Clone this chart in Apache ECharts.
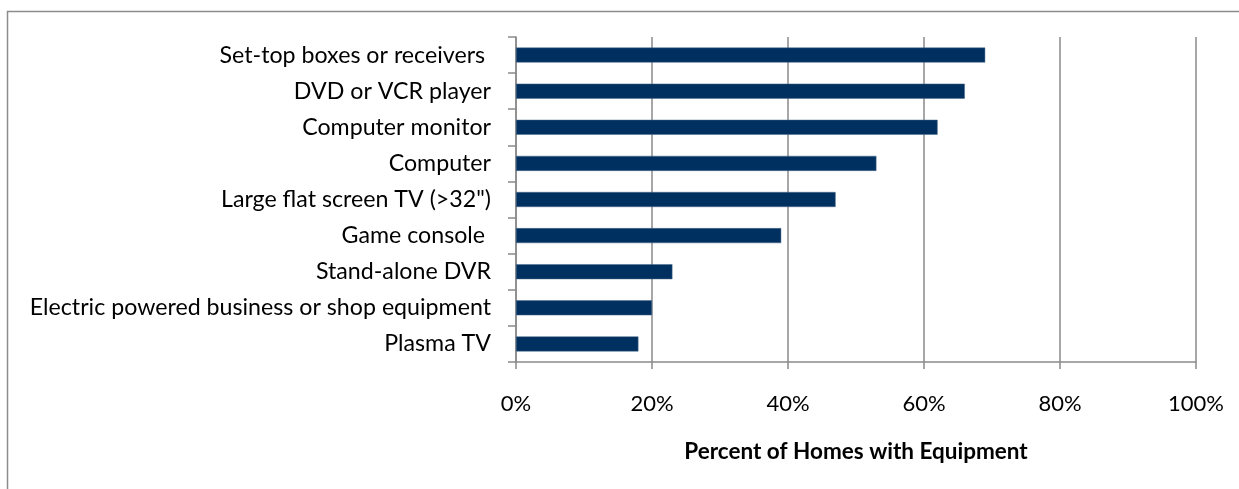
<!DOCTYPE html>
<html>
<head>
<meta charset="utf-8">
<script src="https://cdn.jsdelivr.net/npm/echarts@6/dist/echarts.min.js"></script>
<style>
  html, body { margin: 0; padding: 0; background: #fff; }
  #chart { width: 1239px; height: 489px; }
</style>
</head>
<body>
<div id="chart"></div>
<script>
// Equipment types, listed top to bottom
const categories = [
  'Set-top boxes or receivers ',
  'DVD or VCR player',
  'Computer monitor',
  'Computer',
  'Large flat screen TV (>32")',
  'Game console ',
  'Stand-alone DVR',
  'Electric powered business or shop equipment',
  'Plasma TV'
];
// Share of homes owning each item (%)
const shares = [69, 66, 62, 53, 47, 39, 23, 20, 18];
const xTicks = [0, 20, 40, 60, 80, 100];
const axisTitle = 'Percent of Homes with Equipment';

const fontFamily = 'Lato, "Open Sans", sans-serif';
const gridGray = '#8a8a8a';

const chart = echarts.init(document.getElementById('chart'), null, { renderer: 'canvas' });
chart.setOption({
  backgroundColor: '#ffffff',
  animation: false,
  graphic: [{
    type: 'rect',
    shape: { x: 7.5, y: 11.5, width: 1400, height: 700 },
    style: { fill: 'none', stroke: '#8c8c8c', lineWidth: 1.5 },
    silent: true
  }],
  grid: { left: 516, right: 43, top: 37, bottom: 127, containLabel: false },
  xAxis: {
    type: 'value',
    min: xTicks[0],
    max: xTicks[xTicks.length - 1],
    interval: 20,
    axisLine: { show: true, lineStyle: { color: gridGray, width: 1.5 } },
    axisTick: { show: true, length: 7, lineStyle: { color: gridGray, width: 1.5 } },
    splitLine: { show: true, lineStyle: { color: gridGray, width: 1.5 } },
    axisLabel: {
      formatter: v => v + '%',
      color: '#000',
      fontFamily: fontFamily,
      fontSize: 22,
      margin: 31
    },
    name: axisTitle,
    nameLocation: 'middle',
    nameGap: 78,
    nameTextStyle: { color: '#000', fontFamily: fontFamily, fontSize: 22.5, fontWeight: 'bold' }
  },
  yAxis: {
    type: 'category',
    data: categories,
    inverse: true,
    axisLine: { show: true, lineStyle: { color: gridGray, width: 1.5 } },
    axisTick: { show: true, length: 8, alignWithLabel: false, lineStyle: { color: gridGray, width: 1.5 } },
    splitLine: { show: false },
    axisLabel: {
      color: '#000',
      fontFamily: fontFamily,
      fontSize: 23.2,
      margin: 25,
      padding: [4, 0, 0, 0]
    }
  },
  series: [{
    type: 'bar',
    data: shares,
    barWidth: 15,
    itemStyle: { color: '#00305f', borderColor: '#4a6a8c', borderWidth: 0.5 }
  }]
});
</script>
</body>
</html>
